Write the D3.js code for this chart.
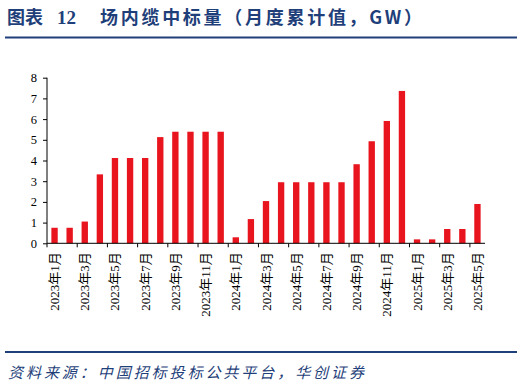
<html lang="zh">
<head>
<meta charset="utf-8">
<script src="https://cdnjs.cloudflare.com/ajax/libs/d3/7.8.5/d3.min.js"></script>
<style>
html, body {
  margin: 0;
  padding: 0;
  background: #fff;
}
svg {
  display: block;
}
.axis text {
  font-family: 'Liberation Serif', 'Noto Sans CJK SC', serif;
  font-size: 12.5px;
  fill: #000;
}
.axis .xlabel {
  font-size: 13px;
}
.axis path, .axis line {
  stroke: #000;
}
</style>
</head>
<body>
<svg width="524" height="387"></svg>
<script>
// months, Jan 2023 .. May 2025
const months = [
  '2023年1月','2023年2月','2023年3月','2023年4月','2023年5月','2023年6月',
  '2023年7月','2023年8月','2023年9月','2023年10月','2023年11月','2023年12月',
  '2024年1月','2024年2月','2024年3月','2024年4月','2024年5月','2024年6月',
  '2024年7月','2024年8月','2024年9月','2024年10月','2024年11月','2024年12月',
  '2025年1月','2025年2月','2025年3月','2025年4月','2025年5月'
];
// cumulative awarded volume, GW
const volumes = [
  0.75, 0.75, 1.05, 3.33, 4.12, 4.12, 4.12, 5.13, 5.39, 5.39, 5.39, 5.39,
  0.29, 1.17, 2.04, 2.95, 2.95, 2.95, 2.95, 2.95, 3.82, 4.93, 5.91, 7.36,
  0.19, 0.19, 0.69, 0.69, 1.90
];
const yTicks = [0, 1, 2, 3, 4, 5, 6, 7, 8];

const svg = d3.select('svg');
const navy = '#1f3f7a';

// header
const title = svg.append('text')
  .attr('y', 24)
  .style('font-family', "'Noto Sans CJK SC', sans-serif")
  .style('font-weight', 'bold')
  .style('font-size', '18px')
  .style('fill', navy);
title.append('tspan').attr('x', 7).text('图表');
title.append('tspan').attr('x', 57).style('font-family', "'Liberation Serif', serif").style('font-size', '19px').text('12');
title.append('tspan').attr('x', 100).attr('textLength', 322).attr('lengthAdjust', 'spacing')
  .text('场内缆中标量（月度累计值，GW）');

svg.append('line')
  .attr('x1', 5).attr('x2', 517)
  .attr('y1', 37.5).attr('y2', 37.5)
  .attr('stroke', navy)
  .attr('stroke-width', 2);

svg.append('line')
  .attr('x1', 5).attr('x2', 517)
  .attr('y1', 352).attr('y2', 352)
  .attr('stroke', navy)
  .attr('stroke-width', 2);

svg.append('text')
  .attr('x', 8).attr('y', 378)
  .attr('textLength', 356).attr('lengthAdjust', 'spacing')
  .style('font-family', "'Noto Sans CJK SC', sans-serif")
  .style('font-style', 'italic')
  .style('font-size', '15px')
  .style('fill', navy)
  .text('资料来源：中国招标投标公共平台，华创证券');

// chart
const plotLeft = 47, plotRight = 485, plotTop = 77.7, plotBottom = 243.3;

const x = d3.scaleBand()
  .domain(months)
  .range([plotLeft, plotRight])
  .paddingInner(0.58)
  .paddingOuter(0.29);

const y = d3.scaleLinear()
  .domain([0, 8])
  .range([plotBottom, plotTop]);

svg.append('g')
  .selectAll('rect')
  .data(volumes)
  .enter()
  .append('rect')
  .attr('x', (d, i) => x(months[i]))
  .attr('y', d => y(d))
  .attr('width', x.bandwidth())
  .attr('height', d => y(0) - y(d))
  .attr('fill', '#e8141e');

const yAxis = svg.append('g')
  .attr('class', 'axis')
  .attr('transform', `translate(${plotLeft},0)`)
  .call(d3.axisLeft(y).tickValues(yTicks).tickSize(4).tickPadding(6).tickFormat(d3.format('d')));
yAxis.select('.domain').attr('d', `M0,${plotTop}V${plotBottom}`);

// x axis: tick marks every two months on category boundaries, labels on odd months
const step = (plotRight - plotLeft) / months.length;
const xAxis = svg.append('g').attr('class', 'axis');
xAxis.append('line')
  .attr('x1', plotLeft).attr('x2', plotRight)
  .attr('y1', plotBottom).attr('y2', plotBottom)
  .attr('stroke', '#000');
xAxis.selectAll('.tick-mark')
  .data(d3.range(0, months.length + 1, 2))
  .enter()
  .append('line')
  .attr('class', 'tick-mark')
  .attr('x1', d => plotLeft + d * step)
  .attr('x2', d => plotLeft + d * step)
  .attr('y1', plotBottom)
  .attr('y2', plotBottom + 4)
  .attr('stroke', '#000');

xAxis.selectAll('.xlabel')
  .data(months.filter((m, i) => i % 2 === 0))
  .enter()
  .append('text')
  .attr('class', 'xlabel')
  .attr('text-anchor', 'end')
  .attr('transform', d => `translate(${x(d) + x.bandwidth() / 2 + 4.5},${plotBottom + 9}) rotate(-90)`)
  .text(d => d);
</script>
</body>
</html>
